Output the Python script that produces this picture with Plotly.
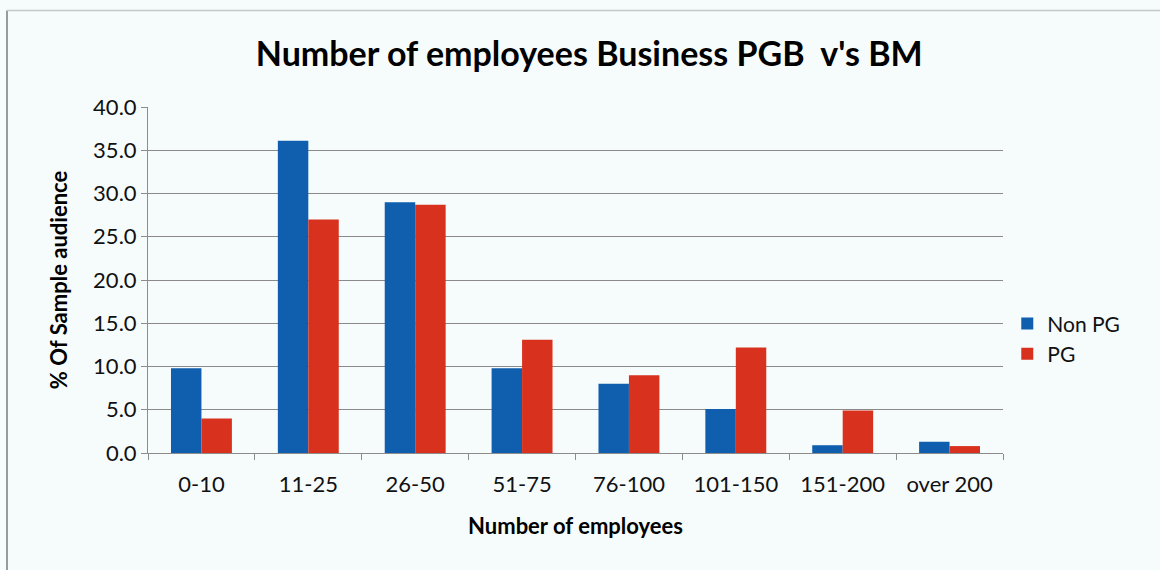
import plotly.graph_objects as go

# Employee-count bands and share of sample audience (%) per group
categories = ["0-10", "11-25", "26-50", "51-75", "76-100", "101-150", "151-200", "over 200"]
non_pg = [9.8, 36.1, 29.0, 9.8, 8.0, 5.1, 0.9, 1.3]
pg = [4.0, 27.0, 28.7, 13.1, 9.0, 12.2, 4.9, 0.8]
y_ticks = [0, 5, 10, 15, 20, 25, 30, 35, 40]
y_tick_labels = [f"{v:.1f}" for v in y_ticks]

FONT = "Lato, Open Sans, sans-serif"
BG = "#f6fcfc"

fig = go.Figure()
fig.add_trace(go.Bar(name="Non PG", x=categories, y=non_pg,
                     marker=dict(color="#0f5fae", line=dict(width=0))))
fig.add_trace(go.Bar(name="PG", x=categories, y=pg,
                     marker=dict(color="#d8321f", line=dict(width=0))))

fig.update_layout(
    width=1160, height=570,
    paper_bgcolor=BG,
    plot_bgcolor=BG,
    margin=dict(l=148, r=157, t=107, b=117),
    barmode="group",
    bargap=0.43,
    bargroupgap=0,
    font=dict(family=FONT, color="#111111"),
    title=dict(
        text="<b>Number of employees Business PGB  v's BM</b>",
        x=0.508, xanchor="center", y=0.905, yanchor="middle",
        font=dict(family=FONT, size=34, color="#000000"),
    ),
    legend=dict(
        x=1.005, xanchor="left", y=0.33, yanchor="middle",
        font=dict(family=FONT, size=21, color="#111111"),
        bgcolor="rgba(0,0,0,0)",
        itemwidth=30, tracegroupgap=0,
    ),
    xaxis=dict(
        title=dict(text="<b>Number of employees</b>",
                   font=dict(family=FONT, size=22, color="#000000"), standoff=22),
        tickfont=dict(family=FONT, size=22, color="#111111"),
        ticklabelstandoff=12,
        showline=True, linecolor="#8c8c8c", linewidth=1,
        ticks="outside", tickson="boundaries", ticklen=6, tickcolor="#8c8c8c",
        showgrid=False,
    ),
    yaxis=dict(
        title=dict(text="<b>% Of Sample audience</b>",
                   font=dict(family=FONT, size=22, color="#000000"), standoff=19),
        range=[0, 40], tickvals=y_ticks, ticktext=y_tick_labels,
        tickfont=dict(family=FONT, size=22, color="#111111"),
        showline=True, linecolor="#8c8c8c", linewidth=1,
        ticks="outside", ticklen=6, tickcolor="#8c8c8c",
        showgrid=True, gridcolor="#8a8a8a", gridwidth=1,
        zeroline=False,
    ),
    shapes=[
        # chart-area frame: left edge and top edge
        dict(type="line", xref="paper", yref="paper",
             x0=-0.1649, x1=-0.1649, y0=-0.36, y1=1.279,
             line=dict(color="#969c9c", width=2)),
        dict(type="line", xref="paper", yref="paper",
             x0=-0.1649, x1=1.2, y0=1.279, y1=1.279,
             line=dict(color="#c4c8c8", width=1.5)),
    ],
)

fig.write_html("out.html")
